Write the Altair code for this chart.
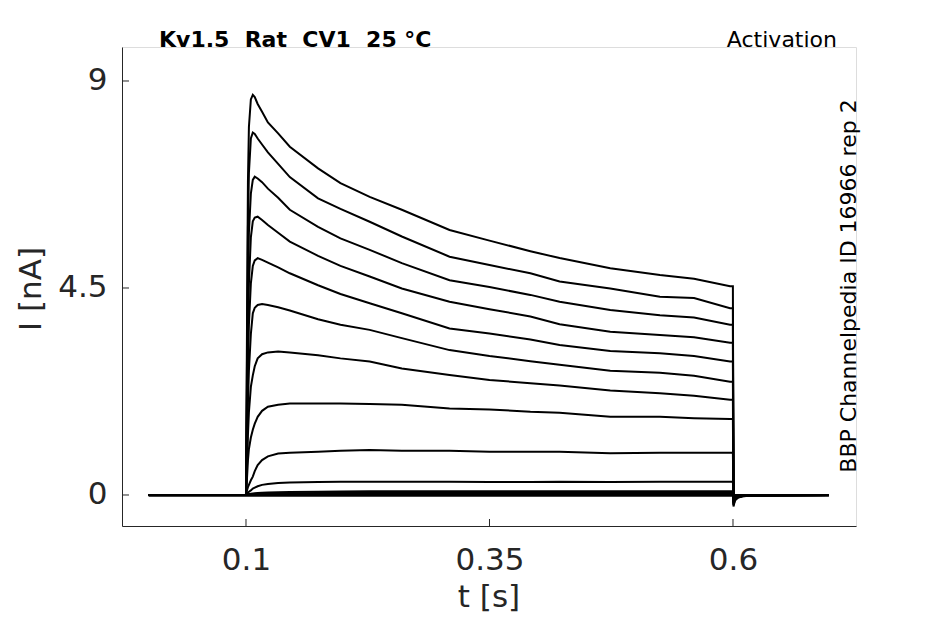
import altair as alt
import pandas as pd

# sample times [s]
times = [0.0, 0.0998, 0.1, 0.101, 0.102, 0.103, 0.105, 0.107, 0.109, 0.112, 0.1165,
         0.1225, 0.133, 0.145, 0.174, 0.197, 0.227, 0.26, 0.309, 0.35, 0.392, 0.422,
         0.474, 0.525, 0.56, 0.597, 0.5999, 0.6005, 0.602, 0.605, 0.61, 0.62, 0.6985]

# current traces [nA]
trace_1 = [0, 0, 0, 3.5, 6.8, 8.0, 8.6, 8.70, 8.65, 8.50, 8.33, 8.10, 7.86, 7.57, 7.10, 6.78, 6.48,
           6.20, 5.76, 5.53, 5.30, 5.15, 4.93, 4.78, 4.70, 4.54, 4.54, -0.25, -0.12, -0.06, -0.03, -0.01, 0.0]
trace_2 = [0, 0, 0, 2.8, 5.8, 7.0, 7.75, 7.88, 7.85, 7.75, 7.62, 7.45, 7.20, 6.91, 6.45, 6.22, 5.94,
           5.62, 5.18, 5.00, 4.82, 4.64, 4.49, 4.31, 4.28, 4.06, 4.06, -0.22, -0.11, -0.05, -0.025, -0.01, 0.0]
trace_3 = [0, 0, 0, 2.2, 4.6, 5.7, 6.55, 6.85, 6.92, 6.88, 6.80, 6.66, 6.46, 6.20, 5.83, 5.58, 5.33,
           5.04, 4.67, 4.52, 4.35, 4.20, 4.02, 3.91, 3.86, 3.70, 3.70, -0.20, -0.10, -0.05, -0.02, -0.01, 0.0]
trace_4 = [0, 0, 0, 1.7, 3.6, 4.6, 5.6, 5.95, 6.03, 6.05, 5.98, 5.87, 5.70, 5.51, 5.20, 4.98, 4.75,
           4.49, 4.20, 4.04, 3.88, 3.71, 3.55, 3.48, 3.43, 3.31, 3.31, -0.18, -0.09, -0.04, -0.02, -0.01, 0.0]
trace_5 = [0, 0, 0, 1.3, 2.8, 3.7, 4.6, 4.98, 5.10, 5.15, 5.11, 5.05, 4.95, 4.82, 4.56, 4.37, 4.17,
           3.95, 3.62, 3.51, 3.38, 3.26, 3.13, 3.08, 3.02, 2.90, 2.90, -0.16, -0.08, -0.04, -0.02, -0.005, 0.0]
trace_6 = [0, 0, 0, 0.9, 2.0, 2.7, 3.5, 3.95, 4.07, 4.13, 4.15, 4.13, 4.08, 4.01, 3.82, 3.70, 3.59,
           3.41, 3.15, 3.02, 2.91, 2.83, 2.70, 2.66, 2.59, 2.46, 2.46, -0.14, -0.07, -0.03, -0.015, -0.005, 0.0]
trace_7 = [0, 0, 0, 0.6, 1.3, 1.8, 2.35, 2.6, 2.8, 2.97, 3.06, 3.10, 3.12, 3.10, 3.04, 2.97, 2.90,
           2.75, 2.61, 2.50, 2.43, 2.38, 2.27, 2.21, 2.16, 2.07, 2.07, -0.12, -0.06, -0.03, -0.01, 0.0, 0.0]
trace_8 = [0, 0, 0, 0.35, 0.75, 1.0, 1.25, 1.42, 1.55, 1.70, 1.83, 1.92, 1.96, 1.99, 1.99, 1.99, 1.98,
           1.96, 1.88, 1.86, 1.81, 1.79, 1.70, 1.70, 1.67, 1.65, 1.65, -0.10, -0.05, -0.02, -0.01, 0.0, 0.0]
trace_9 = [0, 0, 0, 0.1, 0.17, 0.22, 0.32, 0.40, 0.52, 0.65, 0.76, 0.84, 0.90, 0.92, 0.94, 0.96, 0.98,
           0.96, 0.96, 0.94, 0.94, 0.94, 0.91, 0.92, 0.92, 0.92, 0.92, -0.06, -0.03, -0.015, -0.005, 0.0, 0.0]
trace_10 = [0, 0, 0, 0.03, 0.05, 0.07, 0.10, 0.14, 0.16, 0.19, 0.22, 0.24, 0.26, 0.27, 0.28, 0.29, 0.29,
            0.29, 0.29, 0.28, 0.28, 0.29, 0.28, 0.29, 0.29, 0.29, 0.29, -0.04, -0.02, -0.01, 0.0, 0.0, 0.0]
trace_11 = [0, 0, 0, 0.01, 0.015, 0.02, 0.03, 0.035, 0.04, 0.045, 0.05, 0.055, 0.06, 0.065, 0.07, 0.075, 0.08,
            0.08, 0.08, 0.08, 0.08, 0.08, 0.08, 0.08, 0.08, 0.08, 0.08, -0.02, -0.01, 0.0, 0.0, 0.0, 0.0]
trace_12 = [0, 0, 0, 0.005, 0.01, 0.012, 0.015, 0.018, 0.022, 0.026, 0.03, 0.034, 0.038, 0.04, 0.045, 0.045, 0.045,
            0.045, 0.045, 0.045, 0.045, 0.045, 0.045, 0.045, 0.045, 0.045, 0.045, -0.01, -0.005, 0.0, 0.0, 0.0, 0.0]
trace_13 = [0, 0, 0, 0.003, 0.005, 0.007, 0.009, 0.011, 0.013, 0.015, 0.017, 0.018, 0.02, 0.02, 0.02, 0.02, 0.02,
            0.02, 0.02, 0.02, 0.02, 0.02, 0.02, 0.02, 0.02, 0.02, 0.02, -0.005, 0.0, 0.0, 0.0, 0.0, 0.0]
trace_14 = [-0.015, -0.015, -0.015, -0.015, -0.015, -0.015, -0.015, -0.015, -0.015, -0.015, -0.015, -0.015,
            -0.015, -0.015, -0.015, -0.015, -0.015, -0.015, -0.015, -0.015, -0.015, -0.015, -0.015, -0.015,
            -0.015, -0.015, -0.015, -0.015, -0.015, -0.015, -0.015, -0.015, -0.015]

traces = [trace_1, trace_2, trace_3, trace_4, trace_5, trace_6, trace_7, trace_8, trace_9,
          trace_10, trace_11, trace_12, trace_13, trace_14]

x_tick_values = [0.1, 0.35, 0.6]
y_tick_values = [0, 4.5, 9]

title_text = "Kv1.5\u00a0\u00a0Rat\u00a0\u00a0CV1\u00a0\u00a025\u00a0°C"
protocol_text = "Activation"
source_text = "BBP Channelpedia ID 16966 rep 2"
x_title = "t [s]"
y_title = "I [nA]"

rows = []
for k, tr in enumerate(traces):
    for t, v in zip(times, tr):
        rows.append({"t": t, "I": v, "trace": f"sweep {k + 1}"})
df = pd.DataFrame(rows)

FONT = "DejaVu Sans"
AX = "#262626"
W, H = 734, 479

xs = alt.Scale(domain=[-0.0273, 0.7263], nice=False, zero=False)
ys = alt.Scale(domain=[-0.674, 9.739], nice=False, zero=False)

LABEL_EXPR = "format(datum.value, '.3~g')"

x_axis = alt.Axis(values=x_tick_values, labelExpr=LABEL_EXPR, title=None, grid=False, ticks=False, tickSize=0,
                  labelPadding=19, labelFontSize=31, labelFont=FONT, labelColor=AX,
                  domainColor=AX, domainWidth=1, labelFlush=False)
y_axis = alt.Axis(values=y_tick_values, labelExpr=LABEL_EXPR, title=None, grid=False, ticks=False, tickSize=0,
                  labelPadding=15, labelFontSize=31, labelFont=FONT, labelColor=AX,
                  domainColor=AX, domainWidth=1, labelFlush=False)

lines = alt.Chart(df).mark_line(color="black", strokeWidth=2).encode(
    x=alt.X("t:Q", scale=xs, axis=x_axis),
    y=alt.Y("I:Q", scale=ys, axis=y_axis),
    detail="trace:N",
)

xt = alt.Chart(pd.DataFrame({"t": x_tick_values})).mark_rule(color=AX, strokeWidth=1).encode(
    x=alt.X("t:Q", scale=xs, axis=x_axis),
    y=alt.value(H), y2=alt.value(H - 7),
)
yt = alt.Chart(pd.DataFrame({"I": y_tick_values})).mark_rule(color=AX, strokeWidth=1).encode(
    y=alt.Y("I:Q", scale=ys, axis=y_axis),
    x=alt.value(0), x2=alt.value(7),
)

def label(text, x, y, **kw):
    return alt.Chart(pd.DataFrame({"label": [text]})).mark_text(font=FONT, **kw).encode(
        text="label:N", x=alt.value(x), y=alt.value(y))

t1 = label(title_text, 37, 0, fontSize=22, fontWeight="bold", align="left",
           baseline="alphabetic", color="black")
t2 = label(protocol_text, 715, 0, fontSize=22, align="right", baseline="alphabetic", color="black")
t3 = label(source_text, 727, 239, fontSize=22, angle=270, align="center", baseline="middle", color="black")
t4 = label(x_title, 367, 560, fontSize=31, align="center", baseline="alphabetic", color=AX)
t5 = label(y_title, -90, 242, fontSize=31, angle=270, align="center", baseline="middle", color=AX)

chart = alt.layer(lines, xt, yt, t1, t2, t3, t4, t5).properties(
    width=W, height=H,
    autosize=alt.AutoSizeParams(type="none"),
    padding={"left": 114, "top": 39, "right": 70, "bottom": 90},
).configure_view(stroke=None).configure(background="white")

chart.save("out.html", embed_options={"renderer": "svg", "actions": False})
